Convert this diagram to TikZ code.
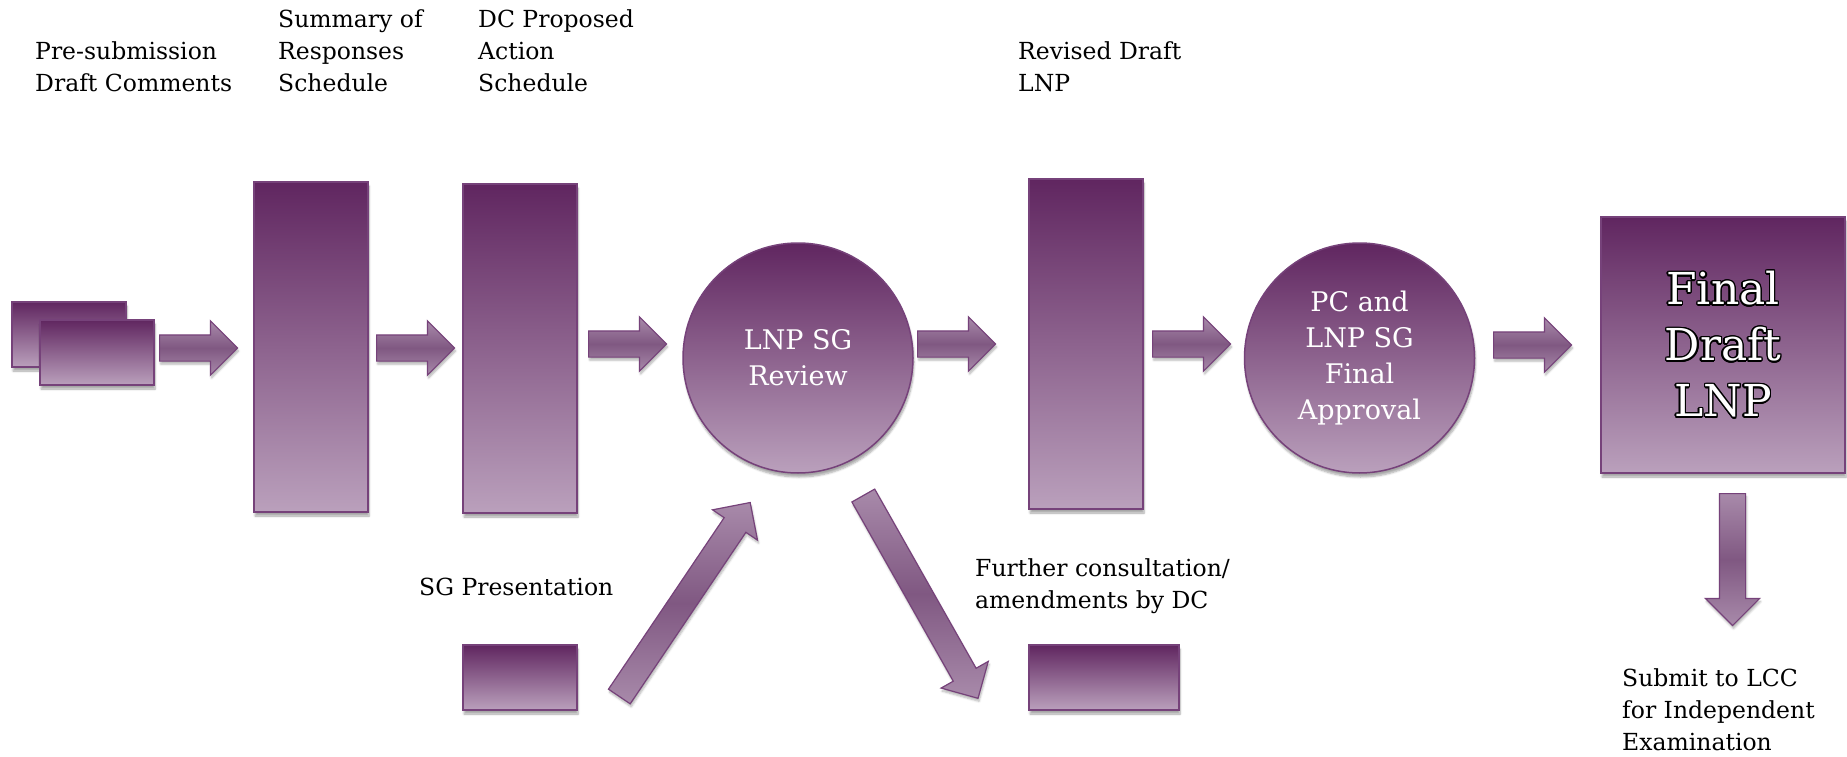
\documentclass[tikz,border=0pt]{standalone}
\usepackage{fontspec}
\setmainfont{DejaVu Serif}
\usepackage{contour}
\usetikzlibrary{shapes.arrows,shadows.blur}
\contourlength{1.4pt}
\definecolor{lnptop}{RGB}{96,38,96}
\definecolor{lnpbot}{RGB}{186,160,188}
\definecolor{lnpline}{RGB}{118,66,122}
\definecolor{arrowmid}{RGB}{128,88,130}
\definecolor{arrowedge}{RGB}{168,138,170}
\tikzset{
  panel/.style={draw=lnpline, line width=1.5pt, top color=lnptop, bottom color=lnpbot, inner sep=0pt,
    blur shadow={shadow xshift=1pt, shadow yshift=-4pt, shadow blur steps=6, shadow opacity=35}},
  doc/.style={panel, rectangle, minimum width=114pt, minimum height=#1},
  stage/.style={panel, circle, minimum size=230pt, text=white, align=center, font=\fontsize{27}{36}\selectfont},
  % placed by the tail
  barrow/.style={single arrow, anchor=tail, draw=lnpline, line width=1.2pt, top color=arrowedge, bottom color=arrowedge,
    middle color=arrowmid, inner sep=0pt, inner ysep=12.5pt, single arrow head extend=14pt, minimum height=#1,
    blur shadow={shadow xshift=1pt, shadow yshift=-3pt, shadow blur steps=5, shadow opacity=30}},
  barrow/.default=78pt,
  % anchored at the baseline of the last line
  caption/.style={anchor=base west, align=left, inner sep=0pt, font=\fontsize{23.5}{32}\selectfont},
}
\begin{document}
\begin{tikzpicture}[x=1pt,y=-1pt]
\useasboundingbox (0,0) rectangle (1847,757);

% documents and schedules
\node[doc=65pt] (olddoc) at (69,334.5) {};
\node[doc=65pt] (newdoc) at (97,352.5) {};
\node[doc=330pt] (summary) at (311,347) {};
\node[doc=329pt] (dcaction) at (520,348.5) {};
\node[stage] (review) at (798,358) {LNP SG\\Review};
\node[doc=330pt] (revised) at (1086,344) {};
\node[stage] (approval) at (1359.5,358) {PC and\\LNP SG\\Final\\Approval};
\node[panel, minimum width=244pt, minimum height=256pt, text=white, align=center,
  font=\fontsize{44}{56}\selectfont] (final) at (1723,345)
  {\contour{black}{Final}\\\contour{black}{Draft}\\\contour{black}{LNP}};
\node[doc=65pt] (sgdoc) at (520,677.5) {};
\node[doc=65pt, minimum width=150pt] (furtherdoc) at (1104,677.5) {};

% block arrows
\node[barrow] (a1) at (159,348) {};
\node[barrow] (a2) at (376,348) {};
\node[barrow] (a3) at (588,344) {};
\node[barrow] (a4) at (917,344) {};
\node[barrow] (a5) at (1152,344) {};
\node[barrow] (a6) at (1493,345) {};
\node[barrow=132pt, rotate=-90] (a7) at (1732.5,493) {};
\node[barrow=234pt, rotate=56] (sgarrow) at (619,697) {};
\node[barrow=233pt, rotate=-60.5] (furtherarrow) at (863,495) {};

% captions
\node[caption] (presubtxt) at (35,92) {Pre-submission\\Draft Comments};
\node[caption] (summarytxt) at (278,92) {Summary of\\Responses\\Schedule};
\node[caption] (dctxt) at (478,92) {DC Proposed\\Action\\Schedule};
\node[caption] (revisedtxt) at (1018,92) {Revised Draft\\LNP};
\node[caption] (sgtxt) at (419,595) {SG Presentation};
\node[caption] (furthertxt) at (975,608) {Further consultation/\\amendments by DC};
\node[caption] (submittxt) at (1622,750) {Submit to LCC\\for Independent\\Examination};
\end{tikzpicture}
\end{document}
